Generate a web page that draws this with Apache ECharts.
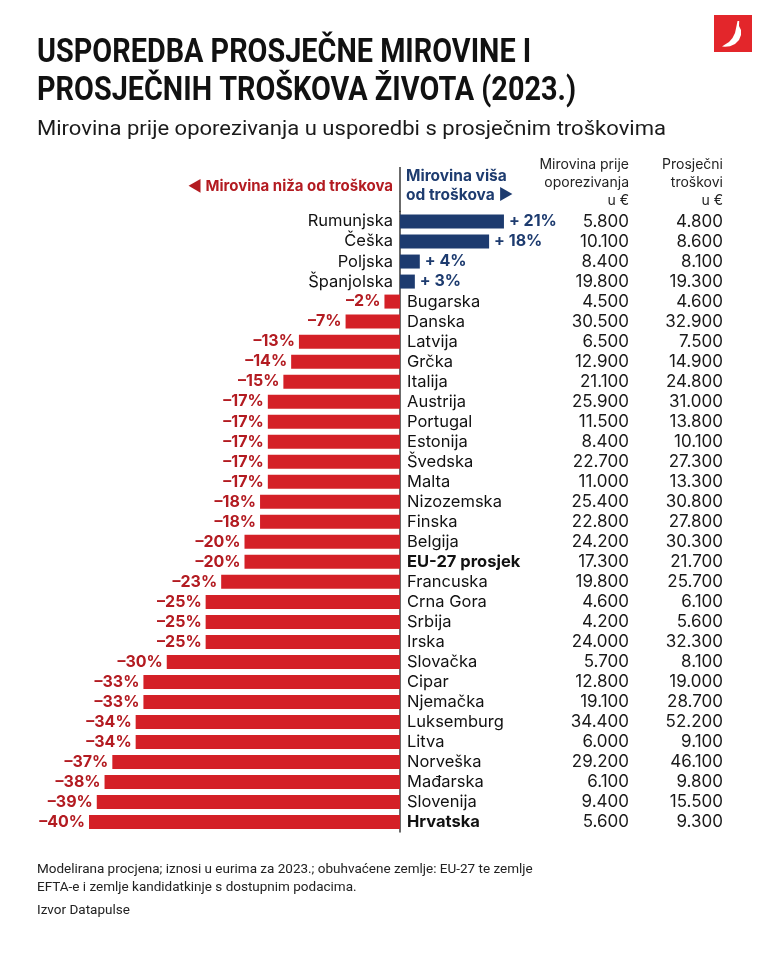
<!DOCTYPE html>
<html><head><meta charset="utf-8">
<script src="https://cdn.jsdelivr.net/npm/echarts@6/dist/echarts.min.js"></script>
<style>html,body{margin:0;padding:0;background:#fff}#c{width:765px;height:956px}</style>
</head><body><div id="c"></div>
<script>
const countries = ['Rumunjska','Češka','Poljska','Španjolska','Bugarska','Danska','Latvija','Grčka','Italija','Austrija','Portugal','Estonija','Švedska','Malta','Nizozemska','Finska','Belgija','EU-27 prosjek','Francuska','Crna Gora','Srbija','Irska','Slovačka','Cipar','Njemačka','Luksemburg','Litva','Norveška','Mađarska','Slovenija','Hrvatska'];
const diffPct = [21,18,4,3,-2,-7,-13,-14,-15,-17,-17,-17,-17,-17,-18,-18,-20,-20,-23,-25,-25,-25,-30,-33,-33,-34,-34,-37,-38,-39,-40];
const pension = [5800,10100,8400,19800,4500,30500,6500,12900,21100,25900,11500,8400,22700,11000,25400,22800,24200,17300,19800,4600,4200,24000,5700,12800,19100,34400,6000,29200,6100,9400,5600];
const costs = [4800,8600,8100,19300,4600,32900,7500,14900,24800,31000,13800,10100,27300,13300,30800,27800,30300,21700,25700,6100,5600,32300,8100,19000,28700,52200,9100,46100,9800,15500,9300];
const boldNames = ['EU-27 prosjek','Hrvatska'];
const titleLines = ['USPOREDBA PROSJEČNE MIROVINE I', 'PROSJEČNIH TROŠKOVA ŽIVOTA (2023.)'];
const subtitle = 'Mirovina prije oporezivanja u usporedbi s prosječnim troškovima';
const footLines = ['Modelirana procjena; iznosi u eurima za 2023.; obuhvaćene zemlje: EU-27 te zemlje', 'EFTA-e i zemlje kandidatkinje s dostupnim podacima.'];
const source = 'Izvor Datapulse';

const RED = '#d42027', RED_T = '#b31b21', BLUE = '#1d3b6f', INK = '#1a1a1a';
const BODY = "Inter, Roboto, 'Noto Sans', sans-serif";
const TITLE_FONT = "bold 34px Roboto, 'DejaVu Sans Condensed', sans-serif";
const SUB_FONT = "21px Roboto, sans-serif";
const fmtNum = v => String(v).replace(/\B(?=(\d{3})+(?!\d))/g, '.');

const mctx = document.createElement('canvas').getContext('2d');
const measure = (t, f) => { mctx.font = f; return mctx.measureText(t).width; };
const titleScale = 539 / measure(titleLines[1], TITLE_FONT);
const subScale = 629 / measure(subtitle, SUB_FONT);

const negData = diffPct.map(v => v < 0 ? v : '-');
const posData = diffPct.map(v => v > 0 ? v : '-');
const nameFmt = p => boldNames.includes(p.name) ? '{b|' + p.name + '}' : p.name;
const nameRich = { b: { fontWeight: 'bold', fontSize: 16.5, color: '#111', fontFamily: BODY } };

const TOP = 211.5, H = 620.6;
const chart = echarts.init(document.getElementById('c'), null, { renderer: 'canvas' });
chart.setOption({
  backgroundColor: '#fff',
  animation: false,
  grid: [
    { left: 89, width: 311, top: TOP, height: H },
    { left: 400, width: 148.5, top: TOP, height: H }
  ],
  xAxis: [
    { gridIndex: 0, type: 'value', min: -40, max: 0, show: false },
    { gridIndex: 1, type: 'value', min: 0, max: 30, show: false }
  ],
  yAxis: [
    { gridIndex: 0, type: 'category', data: countries, inverse: true, show: false },
    { gridIndex: 1, type: 'category', data: countries, inverse: true, position: 'left',
      axisLine: { show: true, onZero: false, lineStyle: { color: '#3a3a3a', width: 1.5 } },
      axisTick: { show: false }, axisLabel: { show: false } },
    { gridIndex: 1, type: 'category', data: countries, inverse: true, position: 'right',
      axisLine: { show: false }, axisTick: { show: false },
      axisLabel: { interval: 0, align: 'right', margin: 80.5, fontSize: 17, color: INK, fontFamily: BODY,
        formatter: (v, i) => fmtNum(pension[i]) } },
    { gridIndex: 1, type: 'category', data: countries, inverse: true, position: 'right',
      axisLine: { show: false }, axisTick: { show: false },
      axisLabel: { interval: 0, align: 'right', margin: 174.5, fontSize: 17, color: INK, fontFamily: BODY,
        formatter: (v, i) => fmtNum(costs[i]) } }
  ],
  series: [
    { type: 'bar', xAxisIndex: 0, yAxisIndex: 0, data: negData, barWidth: 14, silent: true,
      itemStyle: { color: RED },
      label: { show: true, position: 'left', distance: 4, fontSize: 16, fontWeight: 'bold',
        color: RED_T, fontFamily: BODY, formatter: p => '–' + Math.abs(p.value) + '%' } },
    { type: 'bar', xAxisIndex: 0, yAxisIndex: 0, data: negData, barWidth: 14, barGap: '-100%', silent: true,
      itemStyle: { color: 'rgba(0,0,0,0)' },
      label: { show: true, position: 'right', distance: 7, fontSize: 16.5, color: '#111',
        fontFamily: BODY, formatter: nameFmt, rich: nameRich } },
    { type: 'bar', xAxisIndex: 1, yAxisIndex: 1, data: posData, barWidth: 14, silent: true,
      itemStyle: { color: BLUE },
      label: { show: true, position: 'right', distance: 5, fontSize: 16, fontWeight: 'bold',
        color: BLUE, fontFamily: BODY, formatter: p => '+ ' + p.value + '%' } },
    { type: 'bar', xAxisIndex: 1, yAxisIndex: 1, data: posData, barWidth: 14, barGap: '-100%', silent: true,
      itemStyle: { color: 'rgba(0,0,0,0)' },
      label: { show: true, position: 'left', distance: 7, fontSize: 16.5, color: '#111',
        fontFamily: BODY, formatter: nameFmt, rich: nameRich } }
  ],
  graphic: [
    { type: 'text', x: 37, y: 53, scaleX: titleScale, style: { text: titleLines[0], font: TITLE_FONT, fill: '#111', verticalAlign: 'middle' } },
    { type: 'text', x: 37, y: 91, scaleX: titleScale, style: { text: titleLines[1], font: TITLE_FONT, fill: '#111', verticalAlign: 'middle' } },
    { type: 'text', x: 37, y: 130, scaleX: subScale, style: { text: subtitle, font: SUB_FONT, fill: '#1a1a1a', verticalAlign: 'middle' } },
    { type: 'text', x: 393, y: 186, style: { text: '◀ Mirovina niža od troškova', font: "bold 15px " + BODY, fill: RED_T, align: 'right', verticalAlign: 'middle' } },
    { type: 'text', x: 406, y: 176, style: { text: 'Mirovina viša', font: "bold 15.5px " + BODY, fill: BLUE, align: 'left', verticalAlign: 'middle' } },
    { type: 'text', x: 406, y: 195, style: { text: 'od troškova ▶', font: "bold 15.5px " + BODY, fill: BLUE, align: 'left', verticalAlign: 'middle' } },
    { type: 'text', x: 629, y: 165, style: { text: 'Mirovina prije', font: "14px " + BODY, fill: '#222', align: 'right', verticalAlign: 'middle' } },
    { type: 'text', x: 629, y: 183, style: { text: 'oporezivanja', font: "14px " + BODY, fill: '#222', align: 'right', verticalAlign: 'middle' } },
    { type: 'text', x: 629, y: 201, style: { text: 'u €', font: "14px " + BODY, fill: '#222', align: 'right', verticalAlign: 'middle' } },
    { type: 'text', x: 723, y: 165, style: { text: 'Prosječni', font: "14px " + BODY, fill: '#222', align: 'right', verticalAlign: 'middle' } },
    { type: 'text', x: 723, y: 183, style: { text: 'troškovi', font: "14px " + BODY, fill: '#222', align: 'right', verticalAlign: 'middle' } },
    { type: 'text', x: 723, y: 201, style: { text: 'u €', font: "14px " + BODY, fill: '#222', align: 'right', verticalAlign: 'middle' } },
    { type: 'line', shape: { x1: 400, y1: 167, x2: 400, y2: 212 }, style: { stroke: '#3a3a3a', lineWidth: 1.5 } },
    { type: 'text', x: 37, y: 870, style: { text: footLines[0], font: "13.5px Roboto, sans-serif", fill: '#222', verticalAlign: 'middle' } },
    { type: 'text', x: 37, y: 888, style: { text: footLines[1], font: "13.5px Roboto, sans-serif", fill: '#222', verticalAlign: 'middle' } },
    { type: 'text', x: 37, y: 911, style: { text: source, font: "13.5px Roboto, sans-serif", fill: '#222', verticalAlign: 'middle' } },
    { type: 'rect', shape: { x: 714, y: 15, width: 38, height: 37 }, style: { fill: '#e3262b' } },
    { type: 'polygon', shape: { points: [[737.5,21],[739.2,21],[739,26],[741,30],[741,35],[739,40],[735,44],[730,46.3],[725,46.8],[722,46.5],[725,44.5],[729,42],[732.5,38],[735,33],[736.3,27]] }, style: { fill: '#fff' } }
  ]
});
</script></body></html>
